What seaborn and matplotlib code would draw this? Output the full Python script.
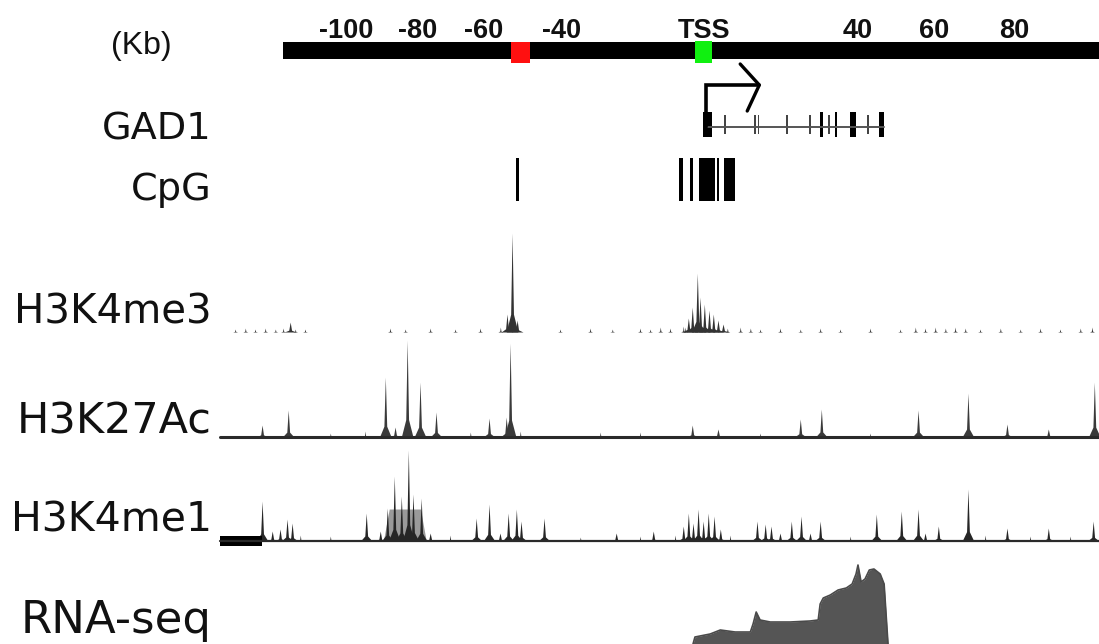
import numpy as np
import pandas as pd
import matplotlib
matplotlib.use("Agg")
import matplotlib.pyplot as plt
import seaborn as sns

sns.set_theme(style="white")
plt.rcParams["font.family"] = ["DejaVu Sans"]

# genomic window, kb relative to the GAD1 TSS
view_kb = (-180.3, 101.5)
region_kb = (-107.7, 102.0)
enhancer_kb = -46.8
tss_kb = 0.0

scale_labels = ["-100", "-80", "-60", "-40", "TSS", "40", "60", "80"]
scale_label_kb = [-91.5, -73.1, -56.4, -36.2, 0.3, 39.7, 59.2, 79.7]

# GAD1 gene model
gene_start, gene_end = 0.8, 46.4
exon_start = [0.0, 5.4, 13.1, 14.0, 21.3, 27.2, 30.0, 32.0, 33.8, 37.7, 42.1, 45.1]
exon_end = [2.3, 5.9, 13.5, 14.4, 21.7, 27.6, 30.8, 32.4, 34.4, 39.2, 42.5, 46.4]

# CpG islands
cpg_start = [-48.0, -6.2, -3.3, -1.0, 3.6, 5.4]
cpg_end = [-47.2, -5.1, -2.6, 3.1, 4.1, 8.2]

# ChIP-seq peaks: position (kb) and height
k4me3_pos = [-120.0, -117.4, -114.9, -112.3, -109.7, -107.7, -105.9, -104.6, -102.1,
             -80.3, -76.4, -70.0, -63.6, -57.2, -52.0, -50.3, -49.0, -47.7,
             -36.7, -29.0, -23.3, -16.2, -13.6, -11.0, -8.5,
             -5.1, -4.6, -3.8, -2.8, -1.5, -0.8, 0.3, 1.5, 2.6, 3.8, 5.1, 6.2,
             9.5, 12.1, 14.6, 19.7, 24.9, 30.0, 35.1, 42.8, 50.5, 54.4, 56.9,
             59.5, 62.1, 64.6, 67.2, 71.0, 76.2, 81.3, 86.4, 91.5, 96.7, 99.7]
k4me3_val = [3, 4, 3, 4, 3, 4, 10, 3, 3,
             4, 3, 4, 3, 4, 5, 18, 99, 12,
             3, 4, 3, 4, 3, 5, 4,
             6, 5, 14, 25, 59, 35, 28, 22, 18, 12, 8, 4,
             5, 4, 3, 4, 3, 4, 3, 4, 3, 5, 4,
             5, 4, 5, 4, 3, 4, 3, 4, 3, 4, 5]

k27ac_pos = [-113.1, -106.4, -95.6, -86.7, -81.5, -79.0, -75.9, -72.6, -68.5,
             -59.7, -54.9, -50.5, -49.5, -46.9, -26.4, -16.2, -2.8, 3.8, 14.6,
             24.9, 30.3, 42.8, 55.1, 67.9, 77.9, 88.5, 100.3]
k27ac_val = [12, 27, 4, 6, 60, 10, 97, 55, 25,
             5, 19, 20, 94, 6, 5, 5, 12, 8, 4,
             18, 28, 4, 27, 44, 13, 8, 55]

k4me1_pos = [-113.1, -110.5, -108.5, -106.7, -105.4, -103.3, -95.6, -86.4, -82.8,
             -81.0, -79.2, -77.4, -75.6, -74.4, -72.3, -70.0, -64.9, -58.2, -54.9,
             -52.1, -50.0, -47.9, -46.7, -40.8, -31.5, -22.3, -16.2, -12.8, -7.2,
             -5.1, -3.8, -2.6, -1.3, 0.0, 1.3, 2.8, 4.4, 6.9, 13.8, 15.9, 17.4,
             19.7, 22.6, 25.1, 27.4, 30.0, 37.7, 44.4, 50.8, 55.1, 56.9, 60.3,
             67.9, 72.3, 77.9, 83.8, 88.5, 94.1, 100.0]
k4me1_val = [40, 10, 12, 22, 18, 6, 5, 28, 10,
             33, 65, 45, 91, 47, 43, 8, 6, 23, 37,
             8, 28, 32, 20, 23, 4, 8, 5, 10, 6,
             15, 28, 18, 32, 20, 28, 25, 12, 6, 20, 17, 15,
             8, 20, 25, 8, 20, 5, 27, 30, 32, 8, 15,
             52, 6, 13, 5, 13, 5, 20]
k4me1_broad = [(-82.0, -71.0, 32)]
k4me1_block = (-123.8, -113.1)

# RNA-seq coverage profile
rna_kb = [-2.6, -2.1, 1.8, 4.4, 8.2, 12.1, 12.8, 13.6, 14.6, 17.2, 22.3, 27.4, 29.5,
          30.0, 30.8, 32.6, 34.6, 36.7, 38.2, 39.2, 39.7, 40.5, 41.5, 42.6, 43.8,
          45.4, 46.4, 46.9, 47.4]
rna_val = [0, 7, 10, 14, 12, 12, 20, 32, 24, 22, 22, 23, 24,
           40, 46, 49, 54, 56, 60, 70, 79, 62, 65, 74, 75,
           70, 60, 30, 0]

W, H = 1099, 644
fig = plt.figure(figsize=(W / 100, H / 100), dpi=100)


def track_axes(base_px, top_px, pad_px=0):
    ax = fig.add_axes([0, 1 - (base_px + pad_px) / H, 1, (base_px + pad_px - top_px) / H])
    ax.set_xlim(*view_kb)
    ax.set_ylim(-pad_px, base_px - top_px)
    ax.set_axis_off()
    return ax


def spikes(ax, pos, val, color, w=0.6):
    shape_x = np.array([-2.5, -0.6, 0, 0.6, 2.5])
    shape_y = np.array([0, 0.18, 1, 0.18, 0])
    for p, v in zip(pos, val):
        ww = w if v >= 8 else 0.25
        ax.fill_between(p + shape_x * ww, 0, v * shape_y, color=color, lw=0)


# scale bar, gene and CpG panel (y in pixel rows)
top = fig.add_axes([0, 1 - 210 / H, 1, 210 / H])
top.set_xlim(*view_kb)
top.set_ylim(210, 0)
top.set_axis_off()
top.fill_between(region_kb, 41.7, 59, color="black", lw=0)
top.fill_between([enhancer_kb - 2.4, enhancer_kb + 2.4], 41.7, 62.7, color="#ff1010", lw=0)
top.fill_between([tss_kb - 2.1, tss_kb + 2.3], 40.7, 62.7, color="#10f010", lw=0)
for lab, x in zip(scale_labels, scale_label_kb):
    top.text(x, 38, lab, ha="center", va="baseline", fontsize=19.5,
             fontfamily="Liberation Sans",
             fontweight="bold" if lab == "TSS" else "semibold", color="#111111")

top.plot([gene_start, gene_end], [127, 127], color="#555555", lw=1.4)
for s, e in zip(exon_start, exon_end):
    if e - s > 0.55:
        top.fill_between([s, e], 112, 137, color="black", lw=0)
    else:
        top.fill_between([s, e], 115, 134, color="#444444", lw=0)
top.plot([gene_start, gene_start, 14.4], [127, 85, 85], color="black", lw=2.6,
         solid_joinstyle="miter")
top.plot([9.5, 14.4, 11.3], [64, 85, 111], color="black", lw=2.4)

for s, e in zip(cpg_start, cpg_end):
    top.fill_between([s, e], 158, 201, color="black", lw=0)

# H3K4me3
ax1 = track_axes(332, 226)
spikes(ax1, k4me3_pos, k4me3_val, "#333333")

# H3K27Ac
ax2 = track_axes(437, 336, 3)
spikes(ax2, k27ac_pos, k27ac_val, "#3a3a3a")
sns.lineplot(x=[-123.8, view_kb[1]], y=[0, 0], ax=ax2, color="#2a2a2a", lw=2.2)

# H3K4me1
ax3 = track_axes(541, 445, 7)
for a, b, v in k4me1_broad:
    ax3.fill_between([a, a + 1.5, b - 1.5, b], 0, [0, v, v, 0], color="#9a9a9a", lw=0)
spikes(ax3, k4me1_pos, k4me1_val, "#262626")
ax3.fill_between(k4me1_block, -5, 5, color="black", lw=0)
sns.lineplot(x=[-123.8, view_kb[1]], y=[0, 0], ax=ax3, color="#2a2a2a", lw=1.6)

# RNA-seq
ax4 = track_axes(644, 560)
rna = pd.DataFrame({"kb": rna_kb, "cov": rna_val})
ax4.fill_between(rna["kb"], 0, rna["cov"], color="#555555", lw=0)
sns.lineplot(data=rna, x="kb", y="cov", ax=ax4, color="#4a4a4a", lw=1.2)
ax4.set_axis_off()

# track labels
fig.text(141 / W, 1 - 46 / H, "(Kb)", ha="center", va="center", fontsize=23,
         family=["Liberation Sans Narrow", "Liberation Sans"], color="#111111")
labels = ["GAD1", "CpG", "H3K4me3", "H3K27Ac", "H3K4me1", "RNA-seq"]
label_y = [129, 190, 312, 422, 521, 621]
label_size = [27.5, 27.5, 29, 31, 29.5, 32.5]
for lab, y, fs in zip(labels, label_y, label_size):
    fig.text(212 / W, 1 - y / H, lab, ha="right", va="center", fontsize=fs, color="#111111")

fig.savefig("out.png", dpi=100)
